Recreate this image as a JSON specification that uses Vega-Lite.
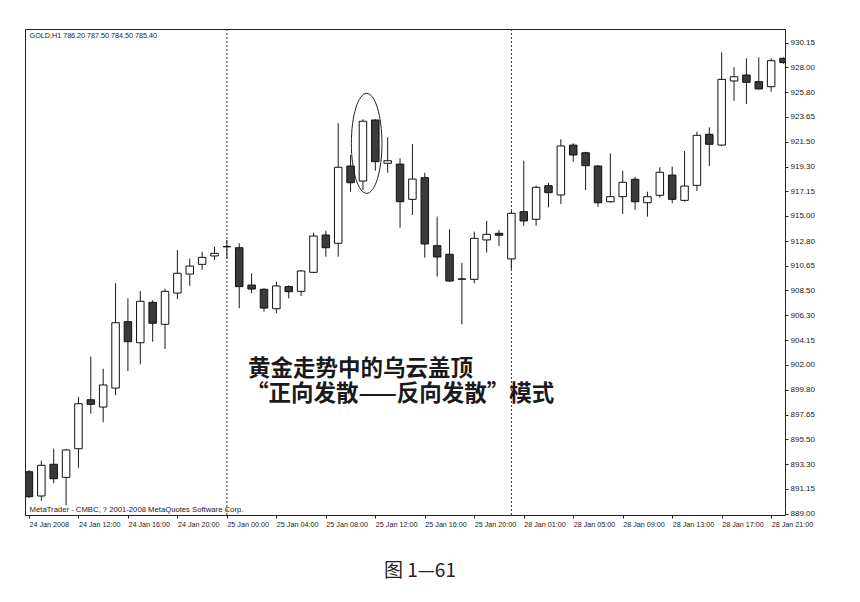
{
  "$schema": "https://vega.github.io/schema/vega-lite/v6.json",
  "width": 760,
  "height": 486,
  "autosize": {"type": "none"},
  "padding": {"left": 25, "top": 29, "right": 75, "bottom": 87},
  "background": "white",
  "view": {"stroke": "#222", "strokeWidth": 1},
  "title": {
    "text": "图 1—61",
    "orient": "bottom",
    "anchor": "middle",
    "offset": 35,
    "dx": 15,
    "font": "Noto Sans CJK SC",
    "fontSize": 19,
    "fontWeight": "normal",
    "color": "#222"
  },
  "config": {
    "axis": {
      "title": null,
      "grid": false,
      "domain": false,
      "tickSize": 3,
      "tickColor": "#222",
      "labelOverlap": false,
      "labelFlush": false,
      "labelPadding": 2,
      "labelFont": "Liberation Sans",
      "labelColor": "#222"
    }
  },
  "datasets": {
    "bars": [
      {"i": 0, "time": "24 Jan 08:00", "open": 892.65, "high": 892.80, "low": 890.35, "close": 890.47},
      {"i": 1, "time": "24 Jan 09:00", "open": 890.53, "high": 893.61, "low": 890.12, "close": 893.21},
      {"i": 2, "time": "24 Jan 10:00", "open": 893.30, "high": 894.66, "low": 891.64, "close": 892.04},
      {"i": 3, "time": "24 Jan 11:00", "open": 892.16, "high": 894.65, "low": 889.72, "close": 894.55},
      {"i": 4, "time": "24 Jan 12:00", "open": 894.66, "high": 899.20, "low": 893.00, "close": 898.59},
      {"i": 5, "time": "24 Jan 13:00", "open": 898.94, "high": 902.70, "low": 897.72, "close": 898.54},
      {"i": 6, "time": "24 Jan 14:00", "open": 898.30, "high": 901.65, "low": 896.97, "close": 900.23},
      {"i": 7, "time": "24 Jan 15:00", "open": 899.96, "high": 909.11, "low": 899.33, "close": 905.67},
      {"i": 8, "time": "24 Jan 16:00", "open": 905.76, "high": 907.80, "low": 901.45, "close": 904.01},
      {"i": 9, "time": "24 Jan 17:00", "open": 903.92, "high": 908.44, "low": 902.04, "close": 907.54},
      {"i": 10, "time": "24 Jan 18:00", "open": 907.45, "high": 907.63, "low": 904.01, "close": 905.62},
      {"i": 11, "time": "24 Jan 19:00", "open": 905.53, "high": 908.64, "low": 903.37, "close": 908.41},
      {"i": 12, "time": "24 Jan 20:00", "open": 908.26, "high": 912.02, "low": 907.74, "close": 909.99},
      {"i": 13, "time": "24 Jan 21:00", "open": 909.92, "high": 911.26, "low": 908.90, "close": 910.62},
      {"i": 14, "time": "24 Jan 22:00", "open": 910.77, "high": 911.87, "low": 910.30, "close": 911.38},
      {"i": 15, "time": "24 Jan 23:00", "open": 911.50, "high": 912.31, "low": 911.15, "close": 911.73},
      {"i": 16, "time": "25 Jan 00:00", "open": 912.30, "high": 912.90, "low": 911.30, "close": 912.32},
      {"i": 17, "time": "25 Jan 01:00", "open": 912.22, "high": 912.61, "low": 906.93, "close": 908.82},
      {"i": 18, "time": "25 Jan 02:00", "open": 908.96, "high": 909.99, "low": 908.24, "close": 908.61},
      {"i": 19, "time": "25 Jan 03:00", "open": 908.59, "high": 908.68, "low": 906.63, "close": 906.95},
      {"i": 20, "time": "25 Jan 04:00", "open": 906.89, "high": 909.25, "low": 906.49, "close": 908.88},
      {"i": 21, "time": "25 Jan 05:00", "open": 908.82, "high": 908.95, "low": 907.80, "close": 908.38},
      {"i": 22, "time": "25 Jan 06:00", "open": 908.41, "high": 910.27, "low": 908.00, "close": 910.19},
      {"i": 23, "time": "25 Jan 07:00", "open": 910.07, "high": 913.53, "low": 910.00, "close": 913.24},
      {"i": 24, "time": "25 Jan 08:00", "open": 913.33, "high": 913.71, "low": 911.44, "close": 912.22},
      {"i": 25, "time": "25 Jan 09:00", "open": 912.61, "high": 923.09, "low": 911.44, "close": 919.25},
      {"i": 26, "time": "25 Jan 10:00", "open": 919.36, "high": 920.32, "low": 917.11, "close": 917.90},
      {"i": 27, "time": "25 Jan 11:00", "open": 918.05, "high": 923.44, "low": 917.26, "close": 923.27},
      {"i": 28, "time": "25 Jan 12:00", "open": 923.38, "high": 923.45, "low": 918.95, "close": 919.74},
      {"i": 29, "time": "25 Jan 13:00", "open": 919.60, "high": 921.87, "low": 918.77, "close": 919.82},
      {"i": 30, "time": "25 Jan 14:00", "open": 919.53, "high": 920.03, "low": 913.97, "close": 916.24},
      {"i": 31, "time": "25 Jan 15:00", "open": 916.45, "high": 921.28, "low": 915.08, "close": 918.22},
      {"i": 32, "time": "25 Jan 16:00", "open": 918.34, "high": 918.77, "low": 911.35, "close": 912.55},
      {"i": 33, "time": "25 Jan 17:00", "open": 912.40, "high": 914.93, "low": 909.69, "close": 911.41},
      {"i": 34, "time": "25 Jan 18:00", "open": 911.65, "high": 913.83, "low": 909.25, "close": 909.31},
      {"i": 35, "time": "25 Jan 19:00", "open": 909.50, "high": 910.91, "low": 905.53, "close": 909.47},
      {"i": 36, "time": "25 Jan 20:00", "open": 909.46, "high": 913.62, "low": 909.11, "close": 913.04},
      {"i": 37, "time": "25 Jan 21:00", "open": 912.90, "high": 914.56, "low": 911.79, "close": 913.39},
      {"i": 38, "time": "25 Jan 22:00", "open": 913.48, "high": 913.77, "low": 912.37, "close": 913.31},
      {"i": 39, "time": "28 Jan 00:00", "open": 911.24, "high": 915.43, "low": 910.34, "close": 915.23},
      {"i": 40, "time": "28 Jan 01:00", "open": 915.37, "high": 919.82, "low": 914.14, "close": 914.56},
      {"i": 41, "time": "28 Jan 02:00", "open": 914.70, "high": 917.64, "low": 914.14, "close": 917.50},
      {"i": 42, "time": "28 Jan 03:00", "open": 917.64, "high": 917.90, "low": 915.75, "close": 917.03},
      {"i": 43, "time": "28 Jan 04:00", "open": 916.83, "high": 921.69, "low": 916.04, "close": 921.11},
      {"i": 44, "time": "28 Jan 05:00", "open": 921.19, "high": 921.34, "low": 919.74, "close": 920.32},
      {"i": 45, "time": "28 Jan 06:00", "open": 920.52, "high": 920.60, "low": 917.26, "close": 919.39},
      {"i": 46, "time": "28 Jan 07:00", "open": 919.36, "high": 919.45, "low": 915.80, "close": 916.15},
      {"i": 47, "time": "28 Jan 08:00", "open": 916.24, "high": 920.47, "low": 916.15, "close": 916.68},
      {"i": 48, "time": "28 Jan 09:00", "open": 916.68, "high": 918.95, "low": 915.17, "close": 917.94},
      {"i": 49, "time": "28 Jan 10:00", "open": 918.20, "high": 918.43, "low": 915.52, "close": 916.24},
      {"i": 50, "time": "28 Jan 11:00", "open": 916.15, "high": 917.11, "low": 914.93, "close": 916.68},
      {"i": 51, "time": "28 Jan 12:00", "open": 916.80, "high": 919.25, "low": 916.59, "close": 918.81},
      {"i": 52, "time": "28 Jan 13:00", "open": 918.57, "high": 919.30, "low": 916.10, "close": 916.45},
      {"i": 53, "time": "28 Jan 14:00", "open": 916.36, "high": 920.67, "low": 916.24, "close": 917.61},
      {"i": 54, "time": "28 Jan 15:00", "open": 917.67, "high": 922.36, "low": 917.18, "close": 922.04},
      {"i": 55, "time": "28 Jan 16:00", "open": 922.13, "high": 922.74, "low": 919.36, "close": 921.26},
      {"i": 56, "time": "28 Jan 17:00", "open": 921.19, "high": 929.29, "low": 921.10, "close": 926.93},
      {"i": 57, "time": "28 Jan 18:00", "open": 926.79, "high": 927.98, "low": 925.07, "close": 927.16},
      {"i": 58, "time": "28 Jan 19:00", "open": 927.31, "high": 928.77, "low": 924.78, "close": 926.67},
      {"i": 59, "time": "28 Jan 20:00", "open": 926.73, "high": 928.86, "low": 926.05, "close": 926.09},
      {"i": 60, "time": "28 Jan 21:00", "open": 926.29, "high": 928.77, "low": 925.85, "close": 928.56},
      {"i": 61, "time": "28 Jan 22:00", "open": 928.77, "high": 928.85, "low": 928.30, "close": 928.39}
    ],
    "daySeparators": [
      {"i": 16, "time": "25 Jan 00:00"},
      {"i": 39, "time": "28 Jan 00:00"}
    ],
    "pattern": [
      {"i": 27.3, "price": 921.34, "name": "乌云盖顶"}
    ],
    "infoText": [
      {"i": 0.05, "price": 930.75, "size": "header", "text": "GOLD,H1  786.20 787.50 784.50 785.40"},
      {"i": 0.05, "price": 889.33, "size": "footer", "text": "MetaTrader - CMBC, ? 2001-2008 MetaQuotes Software Corp."}
    ],
    "notes": [
      {"i": 17.7, "price": 901.62, "text": "黄金走势中的乌云盖顶"},
      {"i": 17.55, "price": 899.4, "text": "“正向发散——反向发散”模式"}
    ]
  },
  "encoding": {
    "x": {
      "field": "i",
      "type": "quantitative",
      "scale": {"domain": [-0.32, 61.12], "nice": false, "zero": false, "padding": 0},
      "axis": {
        "values": [0, 4, 8, 12, 16, 20, 24, 28, 32, 36, 40, 44, 48, 52, 56, 60],
        "labelExpr": "datum.value == 0 ? '24 Jan 2008' : datum.value == 4 ? '24 Jan 12:00' : datum.value == 8 ? '24 Jan 16:00' : datum.value == 12 ? '24 Jan 20:00' : datum.value == 16 ? '25 Jan 00:00' : datum.value == 20 ? '25 Jan 04:00' : datum.value == 24 ? '25 Jan 08:00' : datum.value == 28 ? '25 Jan 12:00' : datum.value == 32 ? '25 Jan 16:00' : datum.value == 36 ? '25 Jan 20:00' : datum.value == 40 ? '28 Jan 01:00' : datum.value == 44 ? '28 Jan 05:00' : datum.value == 48 ? '28 Jan 09:00' : datum.value == 52 ? '28 Jan 13:00' : datum.value == 56 ? '28 Jan 17:00' : '28 Jan 21:00'",
        "labelAlign": "left",
        "labelBaseline": "top",
        "labelFontSize": 7.2
      }
    },
    "y": {
      "field": "low",
      "type": "quantitative",
      "scale": {"domain": [888.87, 931.33], "nice": false, "zero": false, "padding": 0},
      "axis": {
        "orient": "right",
        "values": [889.00, 891.15, 893.30, 895.50, 897.65, 899.80, 902.00, 904.15, 906.30, 908.50, 910.65, 912.80, 915.00, 917.15, 919.30, 921.50, 923.65, 925.80, 928.00, 930.15],
        "format": ".2f",
        "labelFontSize": 8
      }
    }
  },
  "layer": [
    {
      "data": {"name": "daySeparators"},
      "mark": {"type": "rule", "color": "#333", "strokeWidth": 1, "strokeDash": [2, 2]},
      "encoding": {
        "x": {"field": "i", "type": "quantitative"},
        "y": null
      }
    },
    {
      "data": {"name": "bars"},
      "mark": {"type": "rule", "color": "#1a1a1a", "strokeWidth": 1, "clip": true},
      "encoding": {
        "x": {"field": "i", "type": "quantitative"},
        "y": {"field": "low", "type": "quantitative"},
        "y2": {"field": "high"}
      }
    },
    {
      "data": {"name": "bars"},
      "mark": {"type": "bar", "size": 7.5, "stroke": "#111", "strokeWidth": 1, "clip": true},
      "encoding": {
        "x": {"field": "i", "type": "quantitative"},
        "y": {"field": "open", "type": "quantitative"},
        "y2": {"field": "close"},
        "fill": {
          "condition": {"test": "datum.close < datum.open", "value": "#3a3a3a"},
          "value": "white"
        }
      }
    },
    {
      "data": {"name": "pattern"},
      "mark": {
        "type": "point",
        "shape": "M 0.306 0 A 0.306 1 0 1 1 -0.306 0 A 0.306 1 0 1 1 0.306 0 Z",
        "size": 10000,
        "filled": false,
        "stroke": "#222",
        "strokeWidth": 1,
        "opacity": 1
      },
      "encoding": {
        "x": {"field": "i", "type": "quantitative"},
        "y": {"field": "price", "type": "quantitative"}
      }
    },
    {
      "data": {"name": "infoText"},
      "mark": {"type": "text", "align": "left", "baseline": "middle", "font": "Liberation Sans", "color": "#222"},
      "encoding": {
        "x": {"field": "i", "type": "quantitative"},
        "y": {"field": "price", "type": "quantitative"},
        "text": {"field": "text"},
        "size": {
          "field": "size",
          "type": "nominal",
          "scale": {"domain": ["header", "footer"], "range": [7.2, 7.7]},
          "legend": null
        }
      }
    },
    {
      "data": {"name": "notes"},
      "mark": {"type": "text", "align": "left", "baseline": "middle", "font": "Noto Sans CJK SC", "fontSize": 22.5, "fontWeight": "bold", "color": "#1a1a1a"},
      "encoding": {
        "x": {"field": "i", "type": "quantitative"},
        "y": {"field": "price", "type": "quantitative"},
        "text": {"field": "text"}
      }
    }
  ]
}
